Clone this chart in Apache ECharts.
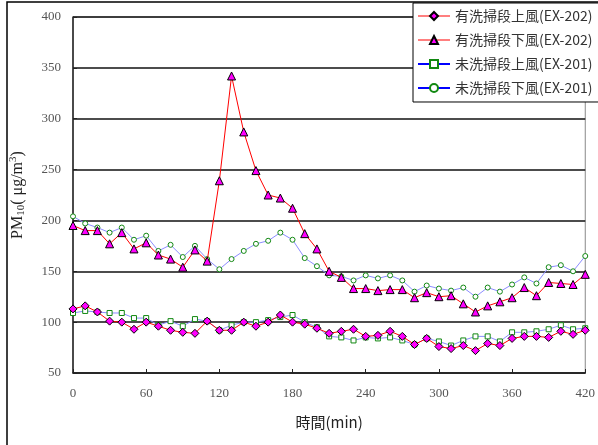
<!DOCTYPE html>
<html>
<head>
<meta charset="utf-8">
<script src="https://cdn.jsdelivr.net/npm/echarts@6/dist/echarts.min.js"></script>
<style>
  html, body { margin: 0; padding: 0; background: #fff; }
  #chart { width: 598px; height: 445px; }
</style>
</head>
<body>
<div id="chart"></div>
<script>
// time in minutes, one reading every 10 min
const minutes = [0,10,20,30,40,50,60,70,80,90,100,110,120,130,140,150,160,170,180,190,200,
  210,220,230,240,250,260,270,280,290,300,310,320,330,340,350,360,370,380,390,400,410,420]

const seriesNames = [
  '有洗掃段上風(EX-202)',
  '有洗掃段下風(EX-202)',
  '未洗掃段上風(EX-201)',
  '未洗掃段下風(EX-201)'
]

// 有洗掃段上風
const washedUp = [113,116,110,101,100,93,100,96,92,90,89,101,92,92,100,96,100,107,100,98,94,
  89,91,93,86,87,91,86,78,84,76,74,77,72,79,77,84,86,86,85,91,88,92]
// 有洗掃段下風
const washedDown = [195,190,190,177,188,172,178,166,162,154,171,160,239,342,287,249,225,222,212,187,172,
  150,144,133,133,131,132,132,124,129,125,126,118,110,116,120,124,134,126,139,138,137,147]
// 未洗掃段上風
const unwashedUp = [109,111,110,109,109,104,104,97,101,96,103,101,92,97,100,100,102,105,107,100,95,
  86,85,82,85,84,85,82,78,84,81,77,82,86,86,81,90,90,91,93,97,93,94]
// 未洗掃段下風
const unwashedDown = [204,197,193,188,193,181,185,170,176,164,175,162,152,162,170,177,180,188,181,163,155,
  146,145,141,146,143,146,141,130,136,133,131,134,125,134,130,137,144,138,154,156,150,165]

const xTicks = { min: 0, max: 420, step: 60 }
const yTicks = { min: 50, max: 400, step: 50 }

const pairs = arr => arr.map((v, i) => [minutes[i], v])

const chart = echarts.init(document.getElementById('chart'))

const serifFont = '"Liberation Serif", "DejaVu Serif", serif'
const cjkFont = '"Noto Sans CJK TC", "Noto Sans CJK SC", sans-serif'

const option = {
  animation: false,
  backgroundColor: '#fff',
  graphic: [{
    type: 'rect',
    shape: { x: 7, y: 2, width: 620, height: 480 },
    style: { fill: 'none', stroke: '#000', lineWidth: 1.5 },
    silent: true
  }],
  grid: { left: 69, top: 17, right: 5, bottom: 72, show: true, borderColor: '#888', borderWidth: 1 },
  legend: {
    left: 413,
    top: 3,
    orient: 'vertical',
    backgroundColor: '#fff',
    borderColor: '#000',
    borderWidth: 1,
    padding: [6, 40, 7, 4],
    itemGap: 10,
    itemWidth: 32,
    itemHeight: 10,
    textStyle: { fontFamily: cjkFont, fontSize: 14, color: '#333' },
    data: [
      { name: seriesNames[0], lineStyle: { color: '#ff5555', width: 1.5 } },
      { name: seriesNames[1], lineStyle: { color: '#ff5555', width: 1.5 } },
      { name: seriesNames[2], lineStyle: { color: '#0000ff', width: 2 } },
      { name: seriesNames[3], lineStyle: { color: '#0000ff', width: 2 } }
    ]
  },
  xAxis: {
    type: 'value',
    min: xTicks.min,
    max: xTicks.max,
    interval: xTicks.step,
    name: '時間(min)',
    nameLocation: 'middle',
    nameGap: 42,
    nameTextStyle: { fontFamily: cjkFont, fontSize: 15, color: '#222' },
    axisLine: { lineStyle: { color: '#222', width: 1.5 } },
    axisTick: { inside: true, length: 4, lineStyle: { color: '#222' } },
    axisLabel: { fontFamily: serifFont, fontSize: 13, color: '#555', margin: 14 },
    splitLine: { show: false }
  },
  yAxis: {
    type: 'value',
    min: yTicks.min,
    max: yTicks.max,
    interval: yTicks.step,
    name: 'PM{sub|10}( μg/m{sup|3})',
    nameLocation: 'middle',
    nameRotate: 90,
    nameGap: 46,
    nameTextStyle: {
      fontFamily: serifFont, fontSize: 16, color: '#222',
      rich: {
        sub: { fontFamily: serifFont, fontSize: 11, color: '#222', verticalAlign: 'bottom', padding: [6, 0, 0, 0] },
        sup: { fontFamily: serifFont, fontSize: 11, color: '#222', verticalAlign: 'top', padding: [0, 0, 8, 0] }
      }
    },
    axisLine: { show: true, lineStyle: { color: '#222', width: 1.5 } },
    axisTick: { show: true, inside: true, length: 4, lineStyle: { color: '#222' } },
    axisLabel: { fontFamily: serifFont, fontSize: 13, color: '#555', margin: 12 },
    splitLine: { show: true, lineStyle: { color: '#111', width: 1.5 } }
  },
  series: [
    {
      name: seriesNames[0],
      type: 'line',
      data: pairs(washedUp),
      symbol: 'diamond',
      symbolSize: 8,
      lineStyle: { color: '#ff0000', width: 1 },
      itemStyle: { color: '#ff00ff', borderColor: '#000', borderWidth: 1 },
      z: 4
    },
    {
      name: seriesNames[1],
      type: 'line',
      data: pairs(washedDown),
      symbol: 'triangle',
      symbolSize: 8,
      lineStyle: { color: '#ff0000', width: 1 },
      itemStyle: { color: '#ff00ff', borderColor: '#000', borderWidth: 1 },
      z: 4
    },
    {
      name: seriesNames[2],
      type: 'line',
      data: pairs(unwashedUp),
      symbol: 'rect',
      symbolSize: 5,
      lineStyle: { color: '#8c8cff', width: 1 },
      itemStyle: { color: '#fff', borderColor: '#118811', borderWidth: 1 },
      z: 3
    },
    {
      name: seriesNames[3],
      type: 'line',
      data: pairs(unwashedDown),
      symbol: 'circle',
      symbolSize: 5,
      lineStyle: { color: '#8c8cff', width: 1 },
      itemStyle: { color: '#fff', borderColor: '#118811', borderWidth: 1 },
      z: 3
    }
  ]
}

chart.setOption(option)
window.addEventListener('resize', () => chart.resize())
</script>
</body>
</html>
